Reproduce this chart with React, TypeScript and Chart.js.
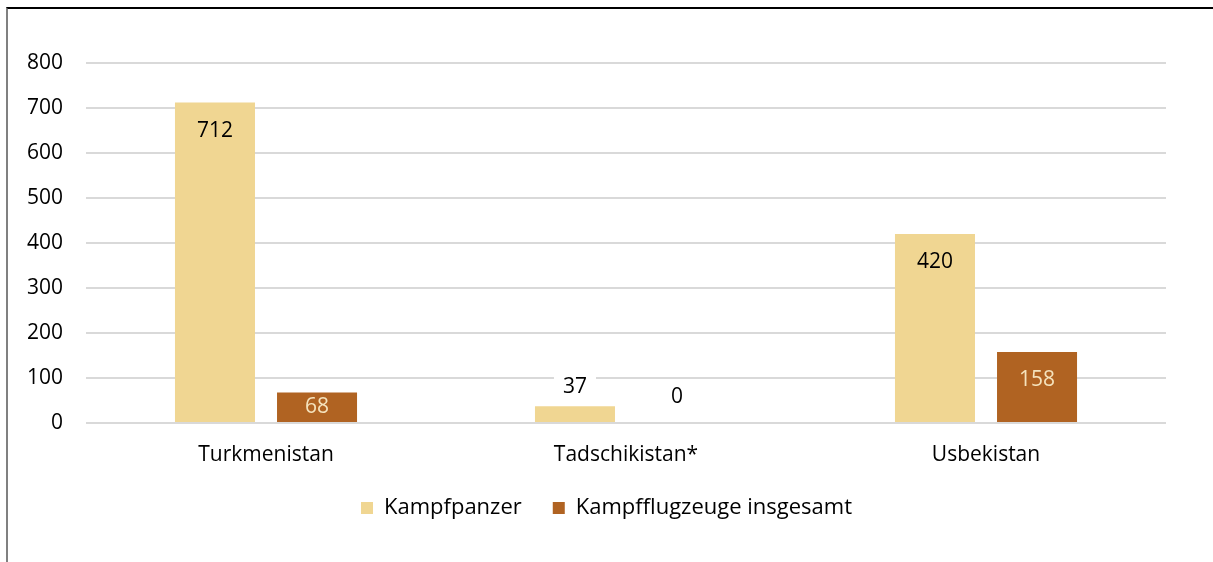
import React, { useEffect, useRef } from "react";
import { Chart, registerables } from "chart.js";

Chart.register(...registerables);

const categories = ["Turkmenistan", "Tadschikistan*", "Usbekistan"];
const seriesNames = ["Kampfpanzer", "Kampfflugzeuge insgesamt"];
const kampfpanzer = [712, 37, 420];
const kampfflugzeuge = [68, 0, 158];
const yTicks = [0, 100, 200, 300, 400, 500, 600, 700, 800];

const colors = ["#F0D692", "#B06322"];
const insideText = ["#000000", "#F5E3BD"];
const FONT = "'Open Sans', 'Noto Sans', sans-serif";
const FS = 21;
const LEGEND_FS = 22;

const labelPlugin = {
  id: "barLabels",
  afterDatasetsDraw(chart: any) {
    const ctx = chart.ctx;
    ctx.save();
    ctx.font = `${FS}px ${FONT}`;
    ctx.textAlign = "center";
    ctx.textBaseline = "middle";
    chart.data.datasets.forEach((ds: any, di: number) => {
      const meta = chart.getDatasetMeta(di);
      meta.data.forEach((el: any, i: number) => {
        const v = ds.data[i];
        const top = Math.min(el.y, el.base);
        const h = Math.abs(el.base - el.y);
        const text = String(v);
        if (h > 25) {
          const y = top + Math.min(28.5, h / 2);
          ctx.fillStyle = insideText[di];
          ctx.fillText(text, el.x, y);
        } else {
          const y = v === 0 ? el.base - 26 : top - 19;
          if (v !== 0) {
            const w = ctx.measureText(text).width + 18;
            ctx.fillStyle = "#ffffff";
            ctx.fillRect(el.x - w / 2, y - 14, w, 28);
          }
          ctx.fillStyle = "#000000";
          ctx.fillText(text, el.x, y);
        }
      });
    });
    ctx.restore();
  },
};

export default function App() {
  const ref = useRef<HTMLCanvasElement>(null);
  useEffect(() => {
    const chart = new Chart(ref.current!, {
      type: "bar",
      data: {
        labels: categories,
        datasets: [
          {
            label: seriesNames[0],
            data: kampfpanzer,
            backgroundColor: colors[0],
            categoryPercentage: 0.567,
            barPercentage: 0.784,
          },
          {
            label: seriesNames[1],
            data: kampfflugzeuge,
            backgroundColor: colors[1],
            categoryPercentage: 0.567,
            barPercentage: 0.784,
          },
        ],
      },
      options: {
        animation: false,
        responsive: true,
        maintainAspectRatio: false,
        layout: { padding: { top: 63, left: 0, right: 0, bottom: 33 } },
        plugins: {
          tooltip: { enabled: false },
          legend: {
            position: "bottom",
            labels: {
              font: { family: FONT, size: LEGEND_FS },
              color: "#000000",
              boxWidth: 12,
              boxHeight: 12,
              padding: 31,
            },
          },
        },
        scales: {
          x: {
            grid: { display: false, drawTicks: false },
            border: { display: false },
            ticks: {
              font: { family: FONT, size: FS },
              color: "#000000",
              padding: 19,
            },
            afterFit: (s: any) => {
              s.height = 43;
            },
          },
          y: {
            min: 0,
            max: 800,
            afterBuildTicks: (s: any) => {
              s.ticks = yTicks.map((v) => ({ value: v }));
            },
            grid: { color: "#D9D9D9", lineWidth: 2, drawTicks: false },
            border: { display: false },
            ticks: {
              font: { family: FONT, size: FS },
              color: "#000000",
              padding: 23,
            },
            afterFit: (s: any) => {
              s.width = 86;
            },
          },
          yRight: {
            position: "right",
            min: 0,
            max: 800,
            grid: { display: false, drawTicks: false },
            border: { display: false },
            ticks: { display: false },
            afterFit: (s: any) => {
              s.width = 47;
            },
          },
        },
      },
      plugins: [labelPlugin],
    });
    return () => chart.destroy();
  }, []);
  return (
    <div style={{ position: "fixed", left: 0, top: 0, width: 1213, height: 562, background: "#fff" }}>
      <div
        style={{
          position: "absolute",
          left: 6,
          top: 7,
          right: 0,
          bottom: 0,
          borderTop: "2px solid #000",
          borderLeft: "2px solid #808080",
        }}
      />
      <canvas ref={ref} style={{ position: "absolute", left: 0, top: 0 }} />
    </div>
  );
}
